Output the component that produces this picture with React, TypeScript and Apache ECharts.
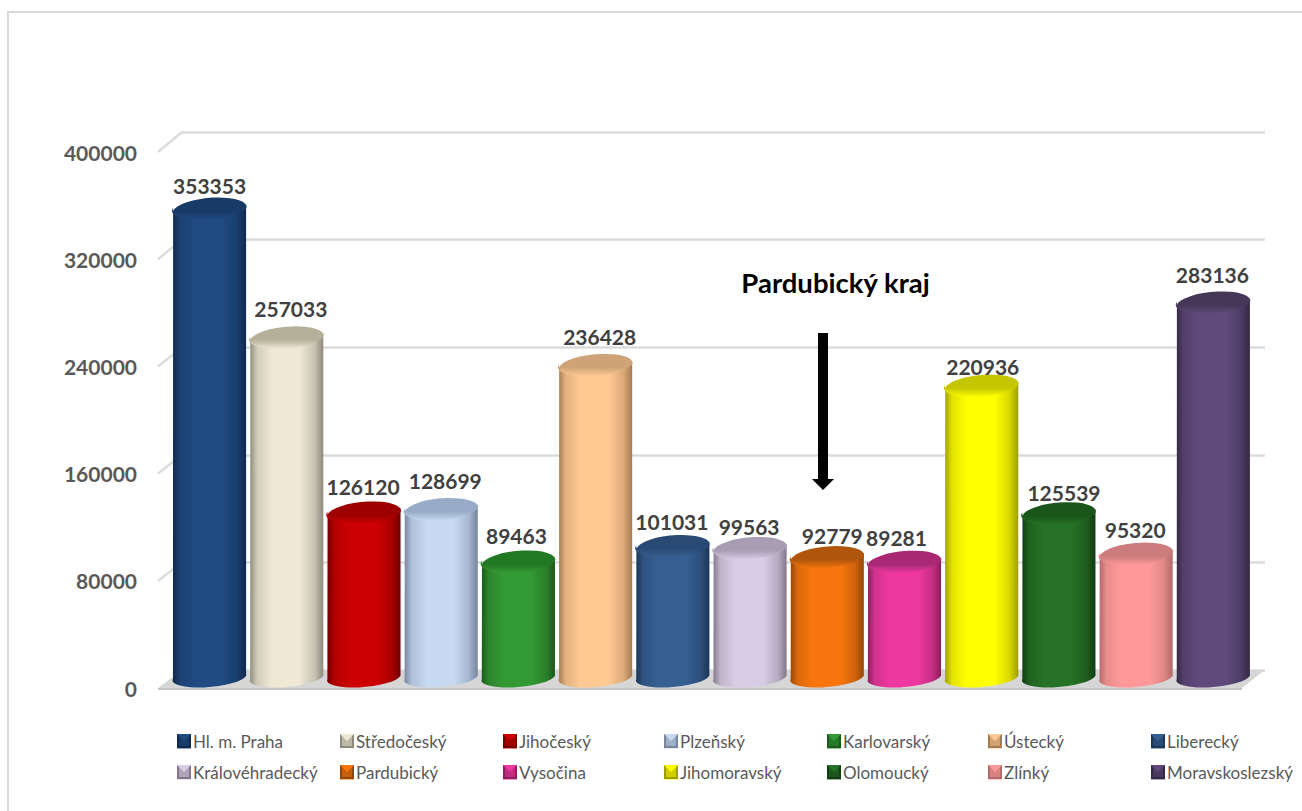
import React, { useEffect, useRef } from "react";
import * as echarts from "echarts";

const categories = ["Hl. m. Praha","Středočeský","Jihočeský","Plzeňský","Karlovarský","Ústecký","Liberecký","Královéhradecký","Pardubický","Vysočina","Jihomoravský","Olomoucký","Zlínký","Moravskoslezský"];
const values = [353353,257033,126120,128699,89463,236428,101031,99563,92779,89281,220936,125539,95320,283136];
const yTicks = [0,80000,160000,240000,320000,400000];
const midColors = ["#1F4A82","#EEE8D5","#CC0000","#C6D9F1","#339933","#FFC993","#376092","#D9CDE6","#F8760D","#EE38A0","#FFFF00","#267226","#FF9999","#604A7B"];
const edgeColors = ["#11294D","#8E8B7C","#730000","#74859C","#1B5A1B","#A67B52","#1C3658","#827889","#94470A","#8C1F5E","#9E9E00","#113C11","#B26A6A","#342844"];
const topColors = ["#173A66","#B4B09A","#9C0000","#97ABC6","#237823","#CFA378","#284A74","#A99DB4","#B0560A","#A82874","#C6C600","#1A561A","#CC7C7C","#463658"];
const labelNudgeX = [0,4,-1,4,-2,4,-1,-1,5,-8,1,5,-1,-1];
const labelNudgeY = [2,-4,-1,-3,-1,-3,1,4,4,1,6,4,1,-3];
const legendCols = [177,340,503,664,827,988,1151];
const legendRows = [733,764];

const FRONT = { left: 158, width: 1084, top: 152, height: 536 };
const BACK = { left: 182, width: 1083, top: 132, height: 538 };
const BARS = { left: 171, width: 1081, top: 144, height: 535 };
const BAR_W = 73;
const TILT = 3.2;
const CAP_DROP = 1.5;
const TEXT_FONT = "Lato, 'Open Sans', sans-serif";

const yAxisBase = { type: "value", min: 0, max: 400000, interval: 80000 };
const lerp = (a: string, b: string, t: number) => echarts.color.lerp(t, [a, b]);

function cylinder(i: number) {
  return (params: any, api: any) => {
    const [cx, vy] = api.coord([api.value(0), api.value(1)]);
    const [, by] = api.coord([api.value(0), 0]);
    const cy = vy + CAP_DROP;
    const a = BAR_W / 2;
    const rx = Math.sqrt(a * a + TILT * TILT);
    const rot = (-Math.atan(TILT / a) * 180) / Math.PI;
    const ell = (y: number, ry: number) =>
      `M${cx - a} ${y + TILT}A${rx} ${ry} ${rot} 0 1 ${cx + a} ${y - TILT}A${rx} ${ry} ${rot} 0 1 ${cx - a} ${y + TILT}Z`;
    const body = `M${cx - a} ${cy + TILT}L${cx + a} ${cy - TILT}L${cx + a} ${by - TILT}A${rx} 9.5 ${rot} 0 1 ${cx - a} ${by + TILT}Z`;
    const side = {
      type: "linear", x: 0, y: 0, x2: 1, y2: 0,
      colorStops: [
        { offset: 0, color: edgeColors[i] },
        { offset: 0.1, color: lerp(edgeColors[i], midColors[i], 0.7) },
        { offset: 0.3, color: midColors[i] },
        { offset: 0.68, color: midColors[i] },
        { offset: 0.88, color: lerp(edgeColors[i], midColors[i], 0.6) },
        { offset: 1, color: edgeColors[i] },
      ],
    };
    const cap = {
      type: "linear", x: 0, y: 0, x2: 0, y2: 1,
      colorStops: [
        { offset: 0, color: topColors[i] },
        { offset: 0.6, color: topColors[i] },
        { offset: 0.88, color: lerp(topColors[i], midColors[i], 0.7) },
        { offset: 1, color: midColors[i] },
      ],
    };
    return {
      type: "group",
      children: [
        { type: "path", shape: { pathData: body }, style: { fill: side } },
        { type: "path", shape: { pathData: ell(cy, 11.5) }, style: { fill: cap } },
        {
          type: "text",
          style: {
            text: String(api.value(1)),
            x: cx + labelNudgeX[i],
            y: vy - 23 + labelNudgeY[i],
            align: "center",
            verticalAlign: "middle",
            fill: "#404040",
            font: `bold 21px ${TEXT_FONT}`,
          },
        },
      ],
    };
  };
}

function legendBevel(i: number) {
  const x = legendCols[i % 7];
  const y = legendRows[Math.floor(i / 7)] + 1;
  const s = 14;
  return [
    { type: "rect", z: 20, shape: { x, y, width: s, height: s }, style: { fill: edgeColors[i] } },
    { type: "rect", z: 21, shape: { x: x + 2, y: y + 2, width: s - 4, height: s - 4 }, style: { fill: lerp(edgeColors[i], midColors[i], 0.5) } },
    { type: "polygon", z: 22, shape: { points: [[x, y], [x + s, y], [x + s / 2, y + s / 2]] }, style: { fill: midColors[i] } },
  ];
}

export default function App() {
  const ref = useRef<HTMLDivElement>(null);
  useEffect(() => {
    const chart = echarts.init(ref.current!, null, { renderer: "svg" });
    chart.setOption({
      animation: false,
      backgroundColor: "#fff",
      grid: [
        { ...FRONT },
        { ...BACK },
        { ...BARS },
      ],
      xAxis: [0, 1, 2].map((g) => ({ type: "category", gridIndex: g, data: categories, show: false })),
      yAxis: [
        {
          ...yAxisBase, gridIndex: 0,
          axisLine: { show: false }, axisTick: { show: false }, splitLine: { show: false },
          axisLabel: { margin: 21, color: "#595959", fontFamily: TEXT_FONT, fontSize: 21, fontWeight: "bold", formatter: (v: number) => String(v) },
        },
        {
          ...yAxisBase, gridIndex: 1,
          axisLine: { show: false }, axisTick: { show: false }, axisLabel: { show: false },
          splitLine: { show: true, lineStyle: { color: "#DCDCDC", width: 2.5 } },
        },
        { ...yAxisBase, gridIndex: 2, show: false, splitLine: { show: false } },
      ],
      legend: categories.map((name, i) => ({
        data: [name],
        left: legendCols[i % 7],
        top: legendRows[Math.floor(i / 7)],
        icon: "rect",
        itemWidth: 14,
        itemHeight: 14,
        itemGap: 0,
        padding: 0,
        selectedMode: false,
        textStyle: { color: "#595959", fontFamily: TEXT_FONT, fontSize: 17, padding: [0, 0, 4, -3] },
      })),
      series: categories.map((name, i) => ({
        type: "custom",
        name,
        xAxisIndex: 2,
        yAxisIndex: 2,
        clip: false,
        z: 5,
        itemStyle: { color: midColors[i] },
        encode: { x: 0, y: 1 },
        data: [[i, values[i]]],
        renderItem: cylinder(i),
      })),
      graphic: [
        { type: "rect", z: -1, shape: { x: 8, y: 12, width: 1400, height: 900 }, style: { fill: "none", stroke: "#D9D9D9", lineWidth: 2 } },
        { type: "polygon", z: 1, shape: { points: [[158, 688], [182, 670], [1265, 670], [1242, 688]] }, style: { fill: "#D6D6D6" } },
        { type: "rect", z: 1, shape: { x: 158, y: 688, width: 1084, height: 2 }, style: { fill: "#C4C4C4" } },
        ...yTicks.slice(1).map((_, k) => ({
          type: "line", z: 1,
          shape: { x1: 158, y1: 152 + k * 107.2, x2: 182, y2: 132 + k * 107.6 },
          style: { stroke: "#DCDCDC", lineWidth: 2.5 },
        })),
        ...categories.flatMap((_, i) => legendBevel(i)),
        { type: "polygon", z: 10, shape: { points: [[818, 333], [828, 333], [828, 479], [834, 479], [823, 490], [812, 479], [818, 479]] }, style: { fill: "#000" } },
        { type: "text", z: 10, style: { text: "Pardubický kraj", x: 835.5, y: 282, align: "center", verticalAlign: "middle", fill: "#000", font: `bold 27.5px ${TEXT_FONT}` } },
      ],
    });
    return () => chart.dispose();
  }, []);
  return <div ref={ref} style={{ position: "absolute", left: 0, top: 0, width: 1302, height: 811 }} />;
}
